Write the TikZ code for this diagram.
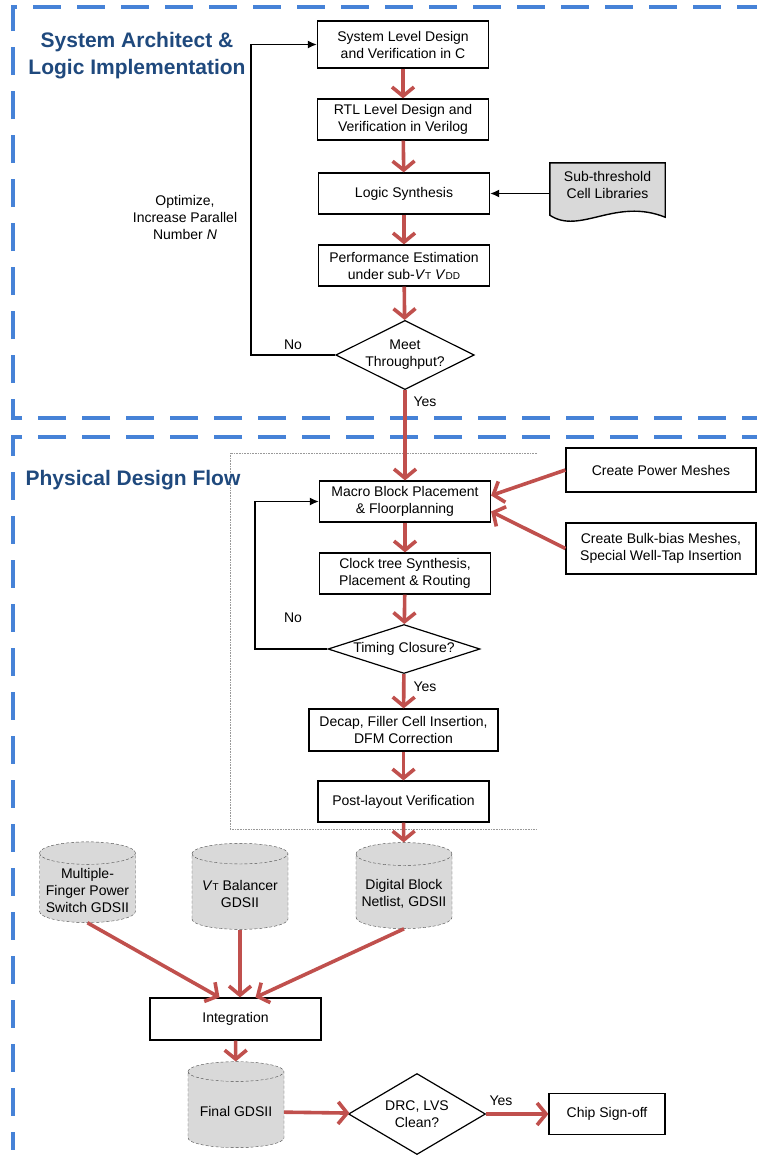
\documentclass[tikz,border=0pt]{standalone}
\usepackage{fontspec}
\setmainfont{Liberation Sans}
\usetikzlibrary{arrows.meta,shapes.geometric,calc,backgrounds}
\definecolor{flowred}{RGB}{192,80,77}
\definecolor{frameblue}{RGB}{70,130,215}
\definecolor{titleblue}{RGB}{31,73,125}
\newcommand{\subvt}{\textit{V}{\fontsize{10}{10}\selectfont T}}
\newcommand{\subvdd}{\textit{V}{\fontsize{10}{10}\selectfont DD}}

\begin{document}
\begin{tikzpicture}[x=1pt, y=-1pt,
    every node/.style={font=\fontsize{14}{17}\selectfont},
    block/.style={rectangle, draw, line width=1.2pt, fill=white, align=center, minimum width=171pt, minimum height=41pt, inner sep=2pt},
    decision/.style={diamond, draw, line width=1.2pt, fill=white, align=center, inner sep=0pt},
    db/.style={cylinder, shape border rotate=90, shape aspect=0.25, draw=black!70, densely dashed, fill=black!15, align=center, minimum width=96pt, minimum height=86pt},
    title/.style={font=\fontsize{21}{27}\selectfont\bfseries, text=titleblue, align=center},
    frame/.style={draw=frameblue, line width=3.2pt, dash pattern=on 28pt off 16pt},
    flow/.style={draw=flowred, line width=3.6pt, -{Straight Barb[length=9pt, width=22pt]}},
    fb/.style={draw, line width=1.5pt, -{Latex[length=9pt, width=8pt]}}
]
    \useasboundingbox (0,0) rectangle (757,1162);

    \draw[frame] (770,418) -- (13,418) -- (13,7) -- (770,7);
    \draw[frame] (770,437) -- (13,437) -- (13,1150);
    \draw[black!40, densely dotted, line width=0.6pt] (537,453) -- (230,453) -- (230,829) -- (537,829);

    \node[title] (T1) at (137,56) {System Architect \&\\Logic Implementation};
    \node[title] (T2) at (133,480) {Physical Design Flow};

    \node[block, minimum height=47pt] (sysdes) at (403,44.5) {System Level Design\\and Verification in C};
    \node[block] (rtl) at (403,119.5) {RTL Level Design and\\Verification in Verilog};
    \node[block] (synth) at (404,193.5) {Logic Synthesis};
    \node[block] (perf) at (404,265.5) {Performance Estimation\\under sub-\subvt\ \subvdd};
    \node[decision, aspect=2, minimum width=136pt, minimum height=66pt] (meet) at (405,355) {Meet\\Throughput?};
    \node[minimum width=115pt, minimum height=44pt, align=center] (lib) at (607.5,185) {Sub-threshold\\Cell Libraries};

    \node[block, minimum height=44pt, minimum width=190pt] (power) at (661,470) {Create Power Meshes};
    \node[block, minimum height=51pt, minimum width=190pt] (bulk) at (661,548.5) {Create Bulk-bias Meshes,\\Special Well-Tap Insertion};
    \node[block] (macro) at (405,501.5) {Macro Block Placement\\\& Floorplanning};
    \node[block] (clock) at (405,573.5) {Clock tree Synthesis,\\Placement \& Routing};
    \node[decision, aspect=3.1, minimum width=152pt, minimum height=49pt] (timing) at (404,649) {Timing Closure?};
    \node[block, minimum width=189pt, minimum height=42pt] (decap) at (403.5,730) {Decap, Filler Cell Insertion,\\DFM Correction};
    \node[block] (post) at (403.5,801.5) {Post-layout Verification};

    \node[db, minimum height=80pt] (pswitch) at (87.5,890) {Multiple-\\Finger Power\\Switch GDSII};
    \node[db] (vtbal) at (240,893.5) {\subvt\ Balancer\\GDSII};
    \node[db] (netlist) at (404,893.5) {Digital Block\\Netlist, GDSII};
    \node[block, minimum height=42pt] (integ) at (235.5,1019) {Integration};
    \node[db] (final) at (236,1111.5) {Final GDSII};
    \node[decision, aspect=1.7, minimum width=137pt, minimum height=81pt] (drc) at (417,1114) {DRC, LVS\\Clean?};
    \node[block, minimum width=116pt] (chip) at (607,1114) {Chip Sign-off};

    \node[align=center] (opt) at (185,217) {Optimize,\\Increase Parallel\\Number \textit{N}};
    \node (no1) at (293,345) {No};
    \node (yes1) at (425,402) {Yes};
    \node (no2) at (293,618) {No};
    \node (yes2) at (425,687) {Yes};
    \node (yes3) at (501,1101) {Yes};

    \begin{scope}[on background layer]
        \draw[line width=1.4pt, fill=black!15] (lib.north west) -- (lib.north east) -- ($(lib.south east)+(0,10)$) .. controls +(-50,-20) and +(30,20) .. ($(lib.south west)+(0,8)$) -- cycle;
    \end{scope}

    \draw[flow] (sysdes) -- (rtl);
    \draw[flow] (rtl) -- (synth);
    \draw[flow] (synth) -- (perf);
    \draw[flow] (perf) -- (meet);
    \draw[flow] (meet) -- (macro);
    \draw[flow] (power.west) -- ($(macro.east)+(0,-6)$);
    \draw[flow] (bulk.west) -- ($(macro.east)+(0,10)$);
    \draw[flow] (macro) -- (clock);
    \draw[flow] (clock) -- (timing);
    \draw[flow] (timing) -- (decap);
    \draw[flow] (decap) -- (post);
    \draw[flow] (post) -- (netlist);
    \draw[flow] (pswitch.south) -- ($(integ.north)+(-16,0)$);
    \draw[flow] (vtbal.south) -- (vtbal.south |- integ.north);
    \draw[flow] (netlist.south) -- ($(integ.north)+(20,0)$);
    \draw[flow] (integ) -- (final);
    \draw[flow] (final) -- (drc);
    \draw[flow] (drc) -- (chip);

    \draw[fb] (lib.west |- synth) -- (synth.east);
    \coordinate (fbtop) at (251,44.5);
    \draw[fb] (meet.west) -| (fbtop) -- (sysdes.west);
    \coordinate (fbmid) at (255,501.5);
    \draw[fb] (timing.west) -| (fbmid) -- (macro.west);

\end{tikzpicture}
\end{document}
